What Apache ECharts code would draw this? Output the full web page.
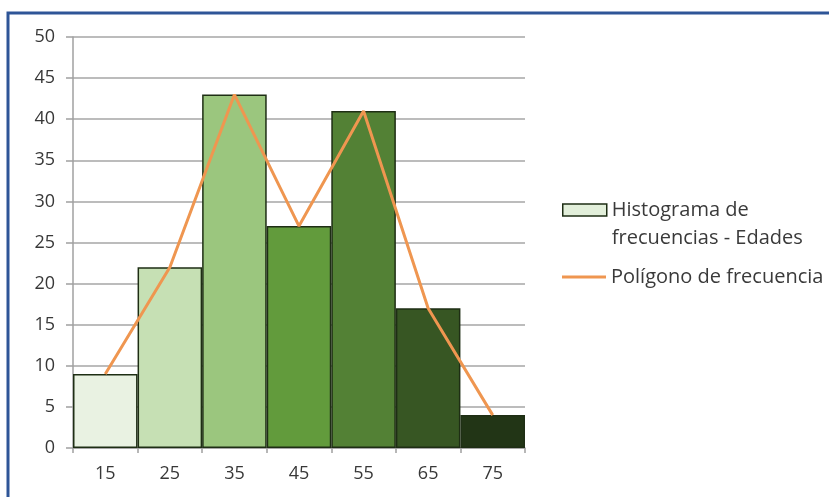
<!DOCTYPE html>
<html>
<head>
<meta charset="utf-8">
<script src="https://cdn.jsdelivr.net/npm/echarts@6/dist/echarts.min.js"></script>
<style>
html,body{margin:0;padding:0;background:#fff;}
#chart{width:829px;height:497px;}
</style>
</head>
<body>
<div id="chart"></div>
<script>
// Data
const categories = ['15', '25', '35', '45', '55', '65', '75'];
const frequencies = [9, 22, 43, 27, 41, 17, 4];
const polygonValues = [9, 22, 43, 27, 41, 17, 4];
const barColors = ['#e9f2e2', '#c6e0b4', '#9bc67e', '#629b3c', '#538135', '#375623', '#223516'];
const seriesNames = ['Histograma de\nfrecuencias - Edades', 'Polígono de frecuencia'];

const FONT = '"Open Sans", "Noto Sans", sans-serif';
const chart = echarts.init(document.getElementById('chart'), null, {renderer: 'canvas'});

chart.setOption({
  animation: false,
  backgroundColor: '#ffffff',
  grid: {left: 73, right: 304, top: 37, bottom: 49, containLabel: false},
  graphic: [{
    type: 'polyline',
    shape: {points: [[8, 497], [8, 13], [829, 13]]},
    style: {stroke: '#2e5597', lineWidth: 3, fill: null},
    silent: true
  }],
  legend: [{
    data: [{name: seriesNames[0], icon: 'rect', itemStyle: {color: '#e2efda', borderColor: '#1e2e14', borderWidth: 1.5}}],
    orient: 'vertical',
    left: 562, top: 168,
    padding: 0,
    itemWidth: 44, itemHeight: 12,
    formatter: name => '\n' + name,
    textStyle: {fontFamily: FONT, fontSize: 20, color: '#3a3a3a', lineHeight: 28}
  }, {
    data: [{name: seriesNames[1], icon: 'rect'}],
    orient: 'vertical',
    left: 562, top: 263,
    padding: 0,
    itemWidth: 44, itemHeight: 3,
    textStyle: {fontFamily: FONT, fontSize: 20, color: '#3a3a3a', lineHeight: 28}
  }],
  xAxis: {
    type: 'category',
    data: categories,
    boundaryGap: true,
    axisLine: {lineStyle: {color: '#a0a0a0', width: 1.5}},
    axisTick: {show: true, length: 5, lineStyle: {color: '#a0a0a0', width: 1.5}},
    axisLabel: {fontFamily: FONT, fontSize: 18, color: '#383838', margin: 17},
    splitLine: {show: false}
  },
  yAxis: {
    type: 'value',
    min: 0, max: 50, interval: 5,
    axisLine: {show: true, lineStyle: {color: '#a0a0a0', width: 1.5}},
    axisTick: {show: true, length: 7, lineStyle: {color: '#a0a0a0', width: 1.5}},
    axisLabel: {fontFamily: FONT, fontSize: 18, color: '#383838', margin: 18},
    splitLine: {show: true, lineStyle: {color: '#a6a6a6', width: 1.5}}
  },
  series: [{
    name: seriesNames[0],
    type: 'bar',
    barCategoryGap: '0%',
    barWidth: '100%',
    data: frequencies.map((v, i) => ({value: v, itemStyle: {color: barColors[i]}})),
    itemStyle: {color: '#e2efda', borderColor: '#1e2e14', borderWidth: 1.5}
  }, {
    name: seriesNames[1],
    type: 'line',
    data: polygonValues,
    symbol: 'none',
    lineStyle: {color: '#ef9650', width: 3},
    itemStyle: {color: '#ef9650'},
    z: 5
  }]
});
</script>
</body>
</html>
